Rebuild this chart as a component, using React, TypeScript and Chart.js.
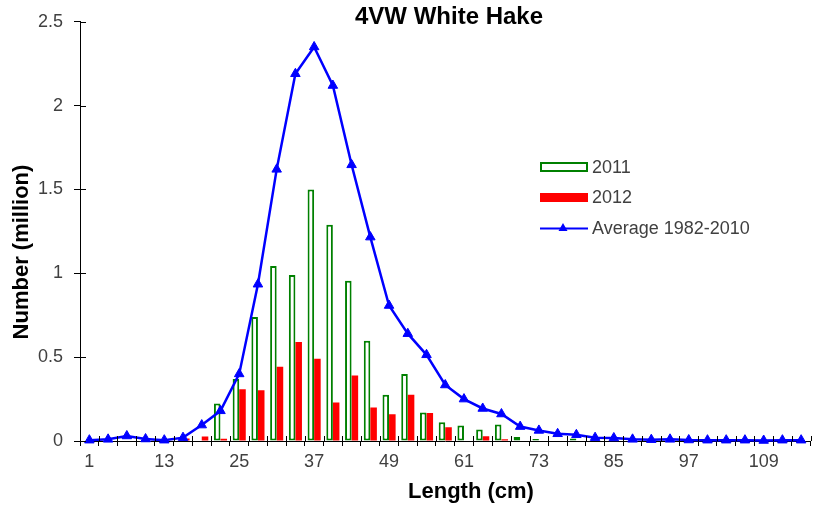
import React, { useEffect, useRef } from "react";
import { Chart, registerables } from "chart.js";

Chart.register(...registerables);

const lengths = [
  "1", "4", "7", "10", "13", "16", "19", "22", "25", "28",
  "31", "34", "37", "40", "43", "46", "49", "52", "55", "58",
  "61", "64", "67", "70", "73", "76", "79", "82", "85", "88",
  "91", "94", "97", "100", "103", "106", "109", "112", "115",
];

const average19822010 = [
  0.005, 0.01, 0.03, 0.012, 0.005, 0.02, 0.095, 0.18, 0.4, 0.935,
  1.62, 2.19, 2.35, 2.12, 1.647, 1.216, 0.808, 0.64, 0.514, 0.334,
  0.25, 0.194, 0.161, 0.086, 0.063, 0.043, 0.037, 0.02, 0.018, 0.01,
  0.008, 0.01, 0.006, 0.005, 0.005, 0.005, 0.003, 0.005, 0.005,
];

const y2011 = [
  null, null, null, null, null, null, null, 0.224, 0.37, 0.74,
  1.043, 0.99, 1.5, 1.29, 0.955, 0.598, 0.276, 0.4, 0.17, 0.112,
  0.092, 0.069, 0.098, 0.024, 0.012, 0.003, 0.015, null, null, null,
  null, null, null, null, null, null, null, null, null,
];

const y2012 = [
  null, null, null, null, null, 0.015, 0.027, 0.014, 0.308, 0.302,
  0.443, 0.59, 0.49, 0.23, 0.39, 0.2, 0.16, 0.276, 0.167, 0.082,
  null, 0.028, 0.01, null, null, null, null, null, null, null,
  null, null, null, null, null, null, null, null, null,
];

const yTicks = [0, 0.5, 1, 1.5, 2, 2.5];

const FONT = "'Liberation Sans', Arial, sans-serif";
const GREEN = "#008000";
const RED = "#FF0000";
const BLUE = "#0000FF";
const TEXT = "#404040";

export default function App() {
  const ref = useRef<HTMLCanvasElement>(null);

  useEffect(() => {
    if (!ref.current) return;

    const overlay = {
      id: "overlay",
      afterDraw(chart: any) {
        const ctx = chart.ctx as CanvasRenderingContext2D;
        const a = chart.chartArea;
        const xs = chart.scales.x;
        const ys = chart.scales.y;
        ctx.save();
        // inner halves of tick marks
        ctx.strokeStyle = "#000";
        ctx.lineWidth = 1;
        ctx.beginPath();
        for (const v of yTicks) {
          const py = Math.round(ys.getPixelForValue(v)) + 0.5;
          ctx.moveTo(a.left, py);
          ctx.lineTo(a.left + 6, py);
        }
        const n = lengths.length;
        for (let i = 0; i <= n; i++) {
          const px = Math.round(xs.left + (i * xs.width) / n) + 0.5;
          ctx.moveTo(px, a.bottom);
          ctx.lineTo(px, a.bottom - 5);
        }
        ctx.stroke();

        // title
        ctx.fillStyle = "#000";
        ctx.textAlign = "center";
        ctx.textBaseline = "middle";
        ctx.font = `bold 24px ${FONT}`;
        ctx.fillText("4VW White Hake", 449, 17);

        // axis titles
        ctx.font = `bold 22px ${FONT}`;
        ctx.fillText("Length (cm)", 471, 492);
        ctx.save();
        ctx.translate(22, 252);
        ctx.rotate(-Math.PI / 2);
        ctx.fillText("Number (million)", 0, 0);
        ctx.restore();

        // legend
        ctx.textAlign = "left";
        ctx.font = `18px ${FONT}`;
        ctx.strokeStyle = GREEN;
        ctx.lineWidth = 2;
        ctx.fillStyle = "#fff";
        ctx.fillRect(541, 163, 46, 8);
        ctx.strokeRect(541, 163, 46, 8);
        ctx.fillStyle = RED;
        ctx.fillRect(540, 193, 48, 9);
        ctx.strokeStyle = BLUE;
        ctx.beginPath();
        ctx.moveTo(540, 228.5);
        ctx.lineTo(588, 228.5);
        ctx.stroke();
        ctx.fillStyle = BLUE;
        ctx.beginPath();
        ctx.moveTo(563, 223);
        ctx.lineTo(567.5, 231);
        ctx.lineTo(558.5, 231);
        ctx.closePath();
        ctx.fill();
        ctx.fillStyle = TEXT;
        ctx.fillText("2011", 592, 168);
        ctx.fillText("2012", 592, 198);
        ctx.fillText("Average 1982-2010", 592, 229);
        ctx.restore();
      },
    };

    const chart = new Chart(ref.current, {
      type: "bar",
      data: {
        labels: lengths,
        datasets: [
          {
            type: "line",
            label: "Average 1982-2010",
            data: average19822010,
            borderColor: BLUE,
            backgroundColor: BLUE,
            borderWidth: 2.5,
            pointStyle: "triangle",
            pointRadius: 5.5,
            pointBorderWidth: 1,
            tension: 0,
            clip: false,
            order: 0,
          } as any,
          {
            type: "bar",
            label: "2011",
            data: y2011,
            backgroundColor: "#fff",
            borderColor: GREEN,
            borderWidth: 2,
            borderSkipped: false,
            categoryPercentage: 0.7,
            barPercentage: 1,
            order: 1,
          } as any,
          {
            type: "bar",
            label: "2012",
            data: y2012,
            backgroundColor: RED,
            borderWidth: 0,
            categoryPercentage: 0.7,
            barPercentage: 1,
            order: 2,
          } as any,
        ],
      },
      options: {
        responsive: false,
        animation: false,
        layout: { padding: { top: 17, right: 0, left: 0, bottom: 0 } },
        plugins: {
          legend: { display: false },
          title: { display: false },
          tooltip: { enabled: false },
        },
        scales: {
          x: {
            offset: true,
            grid: {
              offset: true,
              drawOnChartArea: false,
              drawTicks: true,
              tickLength: 5,
              color: "#000",
            },
            border: { display: true, color: "#000", width: 1 },
            ticks: {
              autoSkip: false,
              maxRotation: 0,
              minRotation: 0,
              padding: 5,
              color: TEXT,
              font: { family: FONT, size: 18 },
              callback: (_v: any, i: number) => (i % 4 === 0 ? lengths[i] : ""),
            },
            afterFit: (s: any) => {
              s.height = 67;
            },
          },
          y: {
            min: 0,
            max: 2.5,
            afterBuildTicks: (s: any) => {
              s.ticks = yTicks.map((v) => ({ value: v }));
            },
            grid: {
              drawOnChartArea: false,
              drawTicks: true,
              tickLength: 6,
              color: "#000",
            },
            border: { display: true, color: "#000", width: 1 },
            ticks: {
              padding: 11,
              color: TEXT,
              font: { family: FONT, size: 18 },
              callback: (v: any) => String(v),
            },
            afterFit: (s: any) => {
              s.width = 80;
            },
          },
        },
      },
      plugins: [overlay],
    });

    return () => chart.destroy();
  }, []);

  return (
    <div style={{ position: "absolute", left: 0, top: 0, width: 817, height: 508, background: "#fff" }}>
      <canvas ref={ref} width={817} height={508} style={{ width: 817, height: 508 }} />
    </div>
  );
}
